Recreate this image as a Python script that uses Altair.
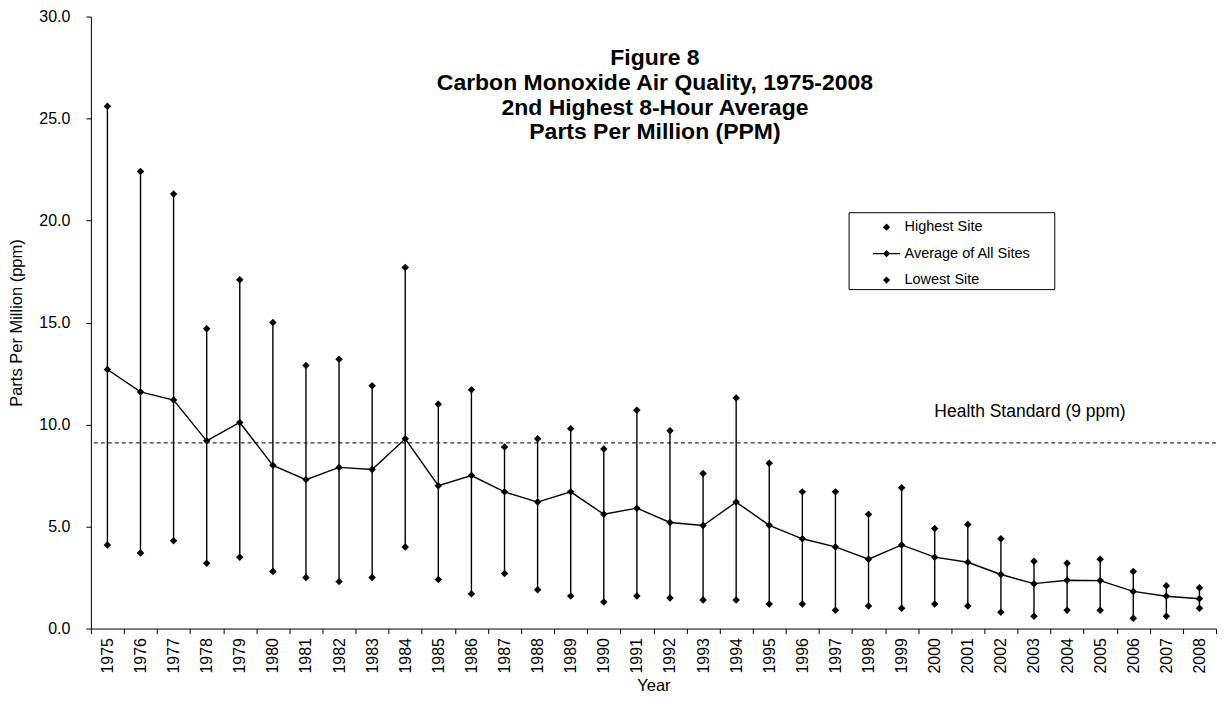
import altair as alt
import pandas as pd

years = list(range(1975, 2009))
highest = [25.6, 22.4, 21.3, 14.7, 17.1, 15.0, 12.9, 13.2, 11.9, 17.7,
           11.0, 11.7, 8.9, 9.3, 9.8, 8.8, 10.7, 9.7, 7.6, 11.3,
           8.1, 6.7, 6.7, 5.6, 6.9, 4.9, 5.1, 4.4, 3.3, 3.2,
           3.4, 2.8, 2.1, 2.0]
average = [12.7, 11.6, 11.2, 9.2, 10.1, 8.0, 7.3, 7.9, 7.8, 9.3,
           7.0, 7.5, 6.7, 6.2, 6.7, 5.6, 5.9, 5.2, 5.05, 6.2,
           5.06, 4.4, 4.0, 3.4, 4.1, 3.5, 3.25, 2.65, 2.2, 2.37,
           2.35, 1.82, 1.58, 1.46]
lowest = [4.1, 3.7, 4.3, 3.2, 3.5, 2.8, 2.5, 2.3, 2.5, 4.0,
          2.4, 1.7, 2.7, 1.9, 1.6, 1.3, 1.6, 1.5, 1.4, 1.4,
          1.2, 1.2, 0.9, 1.1, 1.0, 1.2, 1.1, 0.8, 0.6, 0.9,
          0.9, 0.5, 0.6, 1.0]
series_names = ["Highest Site", "Average of All Sites", "Lowest Site"]
standard_value = [9.1]
standard_label = ["Health Standard (9 ppm)"]
title_lines = ["Figure 8", "Carbon Monoxide Air Quality, 1975-2008",
               "2nd Highest 8-Hour Average", "Parts Per Million (PPM)"]

FONT = "Liberation Sans"

wide = pd.DataFrame({"year": years, "high": highest, "avg": average, "low": lowest})
long = pd.DataFrame({
    "year": years * 3,
    "value": highest + average + lowest,
    "series": [series_names[0]] * len(years) + [series_names[1]] * len(years) + [series_names[2]] * len(years),
})
std_df = pd.DataFrame({"value": standard_value, "label": standard_label, "year": [2003], "ly": [10.6]})
title_df = pd.DataFrame({"t": ["\n".join(title_lines)]})

x_enc = alt.X(
    "year:O",
    title="Year",
    scale=alt.Scale(paddingInner=0, paddingOuter=0),
    axis=alt.Axis(labelAngle=270, tickBand="extent", tickSize=5, labelPadding=4,
                  titlePadding=4, grid=False),
)
y_scale = alt.Scale(domain=[0, 30], nice=False)
y_axis = alt.Axis(values=[0, 5, 10, 15, 20, 25, 30], format=".1f", grid=False,
                  tickSize=5, labelPadding=16, titlePadding=14)

rules = alt.Chart(wide).mark_rule(color="black", strokeWidth=1.4).encode(
    x=x_enc,
    y=alt.Y("low:Q", scale=y_scale, axis=y_axis, title="Parts Per Million (ppm)"),
    y2="high:Q",
)

line = alt.Chart(wide).mark_line(color="black", strokeWidth=1.4).encode(
    x=x_enc,
    y=alt.Y("avg:Q", scale=y_scale),
)

points = alt.Chart(long).mark_point(shape="diamond", filled=True, color="black",
                                     size=56, opacity=1).encode(
    x=x_enc,
    y=alt.Y("value:Q", scale=y_scale),
)

diamond_path = "M0,-0.28L0.28,0L0,0.28L-0.28,0Z"
avg_path = "M-1.05,-0.045L1.05,-0.045L1.05,0.045L-1.05,0.045Z M0,-0.28L0.28,0L0,0.28L-0.28,0Z"

legend_layer = alt.Chart(long).transform_filter("false").mark_point(
    filled=True, color="black", size=676, opacity=1
).encode(
    x=x_enc,
    y=alt.Y("value:Q", scale=y_scale),
    shape=alt.Shape(
        "series:N",
        scale=alt.Scale(domain=series_names, range=[diamond_path, avg_path, diamond_path]),
        legend=alt.Legend(
            title="MM", titleOrient="right", titleColor="white", titleFontSize=12,
            titlePadding=2,
            orient="none", legendX=759, legendY=196,
            strokeColor="black", fillColor="white", padding=2, rowPadding=6.5,
            symbolOffset=23, labelOffset=5, labelFont=FONT, labelFontSize=14.5,
            labelColor="black", symbolStrokeWidth=0, symbolSize=676,
        ),
    ),
)

std_rule = alt.Chart(std_df).mark_rule(color="black", strokeWidth=1, strokeDash=[4, 3]).encode(
    y=alt.Y("value:Q", scale=y_scale),
)

std_text = alt.Chart(std_df).mark_text(font=FONT, fontSize=17.5, color="black", dx=-4).encode(
    x=x_enc,
    y=alt.Y("ly:Q", scale=y_scale),
    text="label:N",
)

title_text = alt.Chart(title_df).mark_text(
    font=FONT, fontSize=23, fontWeight="bold", color="black", align="center",
    baseline="alphabetic", lineBreak="\n", lineHeight=24.7,
).encode(
    x=alt.value(565),
    y=alt.value(49),
    text="t:N",
)

chart = alt.layer(std_rule, rules, line, points, legend_layer, std_text, title_text).properties(
    width=1127, height=613,
    padding={"left": 0, "top": 0, "right": 0, "bottom": 0},
).configure_axis(
    labelFont=FONT, titleFont=FONT, labelFontSize=16, titleFontSize=16.5,
    labelColor="black", titleColor="black", domainColor="black", tickColor="black",
    titleFontWeight="normal",
).configure_view(strokeWidth=0)

chart.save("out.html", embed_options={"renderer": "svg", "actions": False})
